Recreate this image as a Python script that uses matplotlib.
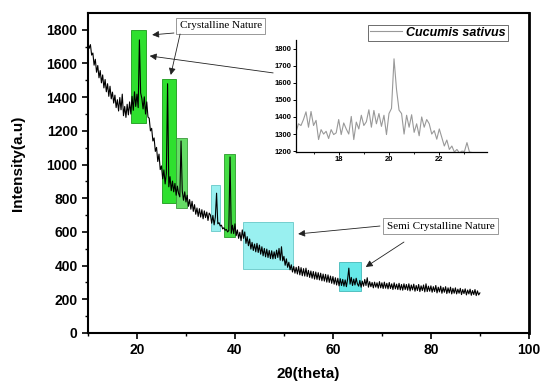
import matplotlib
matplotlib.use("Agg")
import matplotlib.pyplot as plt
from matplotlib.patches import Rectangle
import numpy as np

# main XRD trace, 2theta from 10 to 90 in 0.25 steps
two_theta = np.arange(10, 90.001, 0.25)
intensity = [
    1722, 1690, 1712, 1650, 1662, 1590, 1625, 1548, 1588, 1515,
    1558, 1485, 1532, 1455, 1505, 1432, 1480, 1405, 1465, 1390,
    1430, 1365, 1412, 1338, 1385, 1318, 1398, 1325, 1418, 1290,
    1345, 1280, 1358, 1295, 1372, 1300, 1405, 1322, 1432, 1345,
    1418, 1338, 1740, 1425, 1392, 1330, 1402, 1300, 1372, 1282,
    1275, 1200, 1215, 1140, 1158, 1078, 1102, 1018, 1062, 970,
    992, 915, 968, 885, 948, 1480, 868, 928, 845, 902,
    838, 888, 818, 872, 828, 808, 1140, 842, 788, 838,
    778, 818, 752, 792, 735, 782, 722, 762, 705, 742,
    692, 738, 688, 732, 678, 725, 685, 718, 668, 712,
    700, 652, 698, 642, 688, 830, 648, 655, 635, 640,
    618, 625, 610, 615, 600, 608, 1045, 592, 640, 590,
    648, 578, 612, 562, 598, 548, 612, 562, 600, 532,
    572, 518, 558, 498, 538, 490, 528, 482, 532, 478,
    522, 468, 512, 458, 502, 452, 498, 448, 490, 442,
    488, 440, 482, 442, 492, 448, 502, 432, 512, 428,
    455, 402, 440, 390, 420, 375, 405, 362, 395, 355,
    390, 350, 395, 345, 388, 340, 382, 338, 385, 335,
    372, 330, 368, 325, 365, 320, 362, 318, 358, 315,
    355, 310, 350, 308, 348, 302, 345, 300, 338, 295,
    335, 290, 328, 285, 325, 280, 322, 282, 318, 278,
    315, 275, 320, 385, 290, 330, 282, 320, 285, 325,
    292, 278, 312, 272, 308, 278, 318, 282, 328, 272,
    305, 275, 300, 268, 302, 272, 298, 266, 305, 268,
    298, 264, 302, 266, 295, 262, 300, 264, 292, 258,
    298, 262, 290, 258, 295, 256, 288, 254, 292, 258,
    288, 254, 292, 250, 285, 256, 290, 248, 282, 252,
    288, 246, 280, 252, 285, 244, 292, 246, 278, 248,
    280, 242, 275, 246, 282, 238, 272, 244, 278, 236,
    270, 242, 275, 234, 268, 238, 272, 232, 265, 236,
    268, 232, 260, 236, 265, 228, 258, 234, 262, 226,
    255, 232, 260, 224, 252, 228, 258, 222, 250, 226,
    238,
]

# zoomed trace for the inset (16.3 - 23.3, 0.1 steps)
inset_theta = np.arange(16.3, 23.301, 0.1)
inset_intensity = [
    1310, 1360, 1350, 1385, 1430, 1340, 1432, 1350, 1380, 1268,
    1326, 1300, 1316, 1274, 1326, 1297, 1307, 1385, 1297, 1365,
    1330, 1300, 1403, 1268, 1370, 1330, 1410, 1350, 1372, 1442,
    1340, 1438, 1360, 1420, 1345, 1410, 1297, 1420, 1450, 1740,
    1560, 1440, 1420, 1300, 1410, 1340, 1413, 1310, 1360, 1290,
    1400, 1340, 1385, 1360, 1300, 1320, 1270, 1330, 1280, 1230,
    1265, 1210, 1230, 1195, 1210, 1190, 1200, 1198, 1250, 1195,
    1192,
]

y_ticks = [0, 200, 400, 600, 800, 1000, 1200, 1400, 1600, 1800]
x_ticks = [20, 40, 60, 80, 100]

# highlighted regions: (x0, x1, y0, y1, face, edge)
boxes_crystal = [
    (18.8, 21.8, 1245, 1800, "#2fe02f", "#1a9a1a"),
    (25.1, 28.0, 770, 1510, "#2fe02f", "#1a9a1a"),
    (28.0, 30.2, 740, 1155, "#66dd66", "#3a9a3a"),
    (37.8, 40.0, 570, 1065, "#44dd44", "#2a9a2a"),
]
boxes_semi = [
    (35.1, 37.0, 605, 878, "#99f0f0", "#66c8c8"),
    (41.6, 51.8, 380, 657, "#99f0f0", "#66c8c8"),
    (61.2, 65.7, 250, 420, "#66e8e8", "#44b8b8"),
]

fig = plt.figure(figsize=(5.43, 3.81), dpi=100)
ax = fig.add_axes([0.162, 0.126, 0.812, 0.84])

for x0, x1, y0, y1, fc, ec in boxes_crystal + boxes_semi:
    ax.add_patch(Rectangle((x0, y0), x1 - x0, y1 - y0, facecolor=fc,
                           edgecolor=ec, linewidth=0.6, zorder=1))

ax.plot(two_theta, intensity, color="black", linewidth=0.8, zorder=2)

ax.set_xlim(10, 100)
ax.set_ylim(0, 1900)
ax.set_xticks(x_ticks)
ax.set_xticks([10, 30, 50, 70, 90], minor=True)
ax.set_yticks(y_ticks)
ax.set_yticks(np.arange(100, 1900, 200), minor=True)
ax.tick_params(which="major", direction="out", length=4, width=1.2,
               labelsize=10)
ax.tick_params(which="minor", direction="out", length=2.5, width=1.0)
for lab in ax.get_xticklabels() + ax.get_yticklabels():
    lab.set_fontweight("bold")
    lab.set_family("Liberation Sans")
for s in ax.spines.values():
    s.set_linewidth(1.5)
ax.spines["right"].set_linewidth(2.0)

ax.set_xlabel("2\u03b8(theta)", fontsize=11, fontweight="bold",
              family="Liberation Sans")
ax.xaxis.set_label_coords(0.5, -0.106)
ax.set_ylabel("Intensity(a.u)", fontsize=11, fontweight="bold",
              family="Liberation Sans")
ax.yaxis.set_label_coords(-0.143, 0.53)

leg_line, = ax.plot([], [], color="#999999", linewidth=0.8,
                    label="Cucumis sativus")
leg = ax.legend(handles=[leg_line], loc="upper right",
                bbox_to_anchor=(0.952, 0.9625), borderaxespad=0,
                fancybox=False, edgecolor="#555555", framealpha=1,
                handlelength=2.6, borderpad=0.15, handletextpad=0.3,
                prop={"family": "Liberation Sans", "weight": "bold",
                      "style": "italic", "size": 9})
leg.get_frame().set_linewidth(0.6)

box_style = dict(boxstyle="square,pad=0.3", facecolor="white",
                 edgecolor="#888888", linewidth=0.6)
ax.text(37.1, 1823, "Crystalline Nature", fontsize=8,
        family="Liberation Serif", ha="center", va="center", bbox=box_style)
ax.text(82.0, 635, "Semi Crystalline Nature", fontsize=8,
        family="Liberation Serif", ha="center", va="center", bbox=box_style)

arrows = [
    ((27.55, 1781), (23.1, 1770)),
    ((28.8, 1775), (26.9, 1532)),
    ((47.8, 1544), (22.6, 1645)),
    ((69.6, 635), (52.9, 588)),
    ((74.5, 540), (66.7, 392)),
]
for tail, head in arrows:
    ax.annotate("", xy=head, xytext=tail,
                arrowprops=dict(arrowstyle="-|>", color="#222222",
                                linewidth=0.6, mutation_scale=10,
                                shrinkA=0, shrinkB=0))

# inset
ins = fig.add_axes([0.545, 0.601, 0.352, 0.294])
ins.plot(inset_theta, inset_intensity, color="#999999", linewidth=0.8)
ins.set_xlim(16.3, 23.9)
ins.set_ylim(1195, 1850)
ins.set_xticks([18, 20, 22])
ins.set_xticks([17, 19, 21, 23], minor=True)
ins.set_yticks([1200, 1300, 1400, 1500, 1600, 1700, 1800])
ins.spines["top"].set_visible(False)
ins.spines["right"].set_visible(False)
for s in ins.spines.values():
    s.set_linewidth(0.9)
ins.tick_params(which="major", direction="out", length=2, width=0.7,
                labelsize=5.5, pad=1)
ins.tick_params(which="minor", direction="out", length=1.2, width=0.6)
for lab in ins.get_xticklabels() + ins.get_yticklabels():
    lab.set_fontweight("bold")
    lab.set_family("Liberation Sans")
ins.patch.set_alpha(0)

fig.savefig("out.png", dpi=100)
